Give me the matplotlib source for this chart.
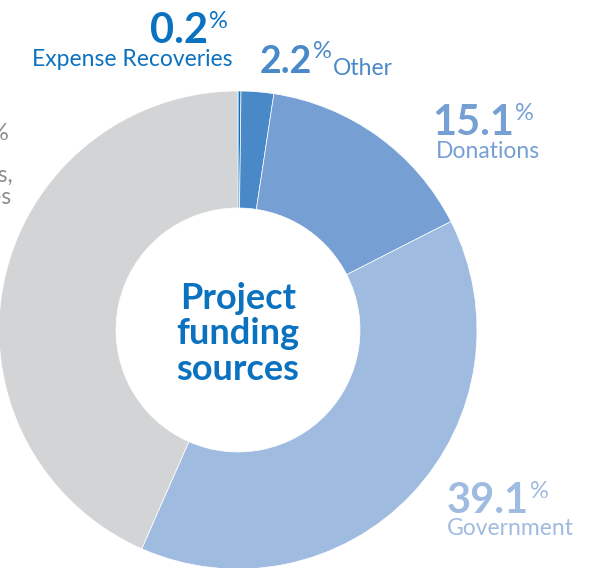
import matplotlib
matplotlib.use("Agg")
import matplotlib.pyplot as plt

# ---- data ----
categories = ["Expense Recoveries", "Other", "Donations", "Government", "Fees, Sales,\nand Services"]
values = [0.2, 2.2, 15.1, 39.1, 43.4]
pct_labels = ["0.2", "2.2", "15.1", "39.1", "43.4"]
colors = ["#0B72C0", "#4A89C8", "#769FD4", "#A0BBE0", "#D3D4D6"]
text_colors = ["#0B72C0", "#4A89C8", "#769FD4", "#A0BBE0", "#8C8C8C"]
center_title = "Project\nfunding\nsources"

W, H = 602, 568
fig = plt.figure(figsize=(W / 100, H / 100), dpi=100)
ax = fig.add_axes([0, 0, 1, 1])

cx, cy = 238, H - 330
R_out, R_in = 239, 122
ax.pie(values, colors=colors, startangle=90, counterclock=False,
       radius=R_out, center=(cx, cy),
       wedgeprops=dict(width=R_out - R_in, edgecolor="white", linewidth=0.5))
ax.set_xlim(0, W)
ax.set_ylim(0, H)
ax.set_aspect("equal")
ax.axis("off")

FONT = "Lato"
LBL = 16.5
fig.canvas.draw()
renderer = fig.canvas.get_renderer()


def px(y):
    return H - y


def right_edge(t):
    bb = t.get_window_extent(renderer)
    return bb.x1


def number(x, y, s, color, size=30):
    """big bold number with superscript %, baseline at y (pixel, top origin)"""
    t = ax.text(x, px(y), s, color=color, fontsize=size, fontweight="bold",
                family=FONT, ha="left", va="baseline")
    x1 = right_edge(t)
    p = ax.text(x1 + 1, px(y - 15), "%", color=color, fontsize=17,
                family=FONT, ha="left", va="baseline")
    return right_edge(p)


# Expense Recoveries
number(150, 43, pct_labels[0], text_colors[0])
ax.text(32, px(66), categories[0], color=text_colors[0], fontsize=LBL,
        family=FONT, ha="left", va="baseline")

# Other
xe = number(260, 73, pct_labels[1], text_colors[1], size=27)
ax.text(xe + 1, px(75), categories[1], color=text_colors[1], fontsize=LBL,
        family=FONT, ha="left", va="baseline")

# Donations
number(432, 135, pct_labels[2], text_colors[2])
ax.text(436, px(158), categories[2], color=text_colors[2], fontsize=LBL,
        family=FONT, ha="left", va="baseline")

# Government
number(447, 513, pct_labels[3], text_colors[3])
ax.text(447, px(535), categories[3], color=text_colors[3], fontsize=LBL,
        family=FONT, ha="left", va="baseline")

# Left (cropped) label
ax.text(-10, px(153), pct_labels[4], color=text_colors[4], fontsize=30,
        fontweight="bold", family=FONT, ha="right", va="baseline")
ax.text(9, px(140), "%", color=text_colors[4], fontsize=17, family=FONT,
        ha="right", va="baseline")
lines = categories[4].split("\n")
ax.text(13, px(182), lines[0], color=text_colors[4], fontsize=LBL,
        family=FONT, ha="right", va="baseline")
ax.text(11, px(204), lines[1], color=text_colors[4], fontsize=LBL,
        family=FONT, ha="right", va="baseline")

# Centre title
ax.text(cx, px(334), center_title, color="#0B72C0", fontsize=26,
        fontweight="bold", family=FONT, ha="center", va="center",
        linespacing=1.1)

fig.savefig("out.png", dpi=100)
